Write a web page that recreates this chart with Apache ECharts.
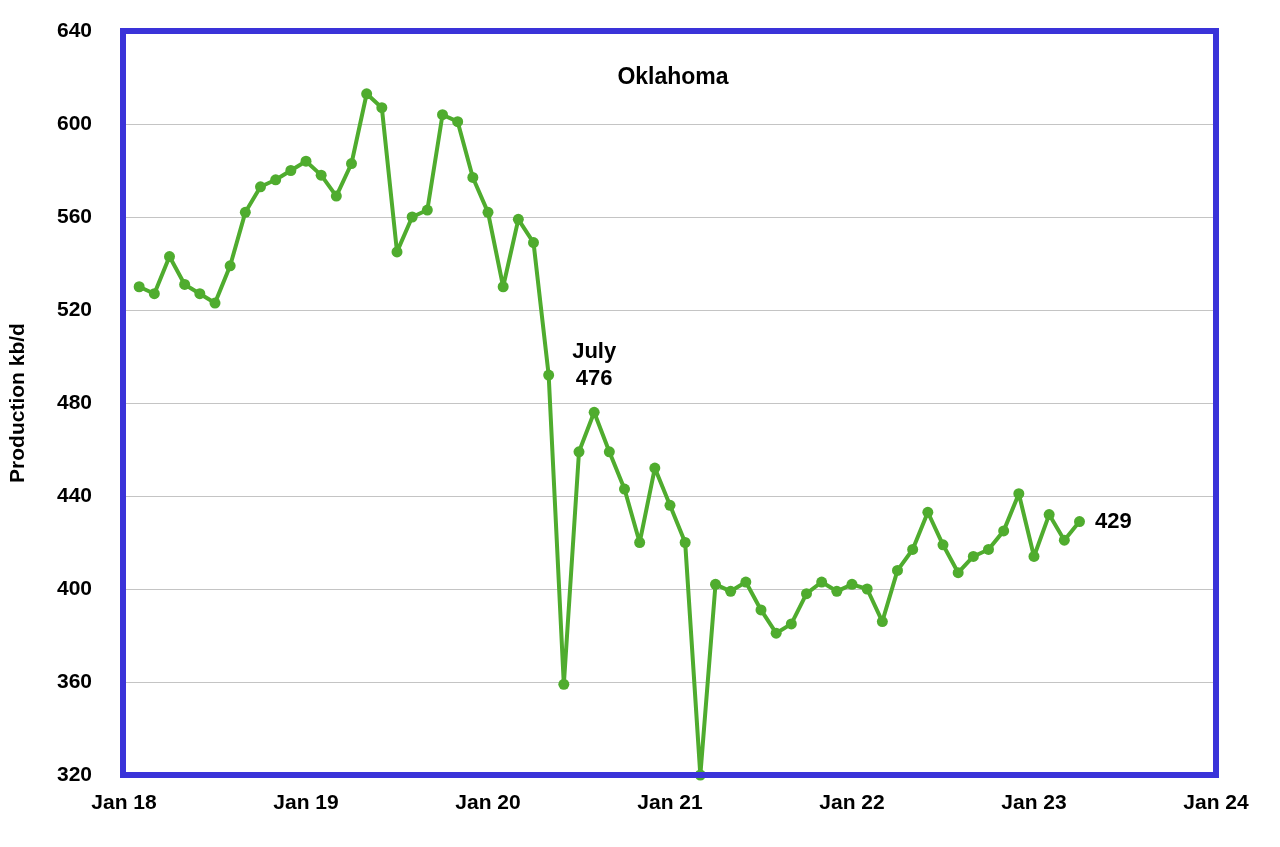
<!DOCTYPE html>
<html>
<head>
<meta charset="utf-8">
<script src="https://cdn.jsdelivr.net/npm/echarts@6/dist/echarts.min.js"></script>
<style>html,body{margin:0;padding:0;background:#fff}#box{width:1280px;height:847px}</style>
</head>
<body>
<div id="box"></div>
<script>
// monthly production Jan 2018 .. Mar 2023, kb/d
var production = [530, 527, 543, 531, 527, 523, 539, 562, 573, 576, 580, 584,
    578, 569, 583, 613, 607, 545, 560, 563, 604, 601, 577, 562,
    530, 559, 549, 492, 359, 459, 476, 459, 443, 420, 452, 436,
    420, 320, 402, 399, 403, 391, 381, 385, 398, 403, 399, 402,
    400, 386, 408, 417, 433, 419, 407, 414, 417, 425, 441, 414,
    432, 421, 429];
var yearLabels = ['Jan 18', 'Jan 19', 'Jan 20', 'Jan 21', 'Jan 22', 'Jan 23', 'Jan 24'];

var myChart = echarts.init(document.getElementById('box'));
var font = 'Liberation Sans';

// points sit at month end: x = month index + 1
var points = production.map(function (v, i) {
    var item = { value: [i + 1, v] };
    if (i === 30) {
        item.label = { show: true, position: 'top', distance: 14, formatter: 'July\n476',
            fontSize: 22, fontWeight: 'bold', color: '#000', lineHeight: 27, fontFamily: font };
    }
    if (i === production.length - 1) {
        item.label = { show: true, position: 'right', distance: 10, formatter: '429',
            fontSize: 22, fontWeight: 'bold', color: '#000', fontFamily: font };
    }
    return item;
});

var option = {
    animation: false,
    title: {
        text: 'Oklahoma',
        left: 668, top: 61, textAlign: 'center',
        textStyle: { fontSize: 23, fontWeight: 'bold', color: '#000', fontFamily: font }
    },
    grid: { left: 123, right: 64, top: 31, bottom: 72 },
    // blue frame around the plot area
    graphic: [{
        type: 'rect', z: 100,
        shape: { x: 123, y: 31, width: 1093, height: 744 },
        style: { fill: null, stroke: '#3a33d9', lineWidth: 6 }
    }],
    xAxis: {
        type: 'value', min: 0, max: 72, interval: 12,
        axisLine: { show: false }, axisTick: { show: false }, splitLine: { show: false },
        axisLabel: {
            margin: 18, fontSize: 21, fontWeight: 'bold', color: '#000', fontFamily: font,
            formatter: function (v) { return yearLabels[v / 12]; }
        }
    },
    yAxis: {
        type: 'value', min: 320, max: 640, interval: 40,
        name: 'Production kb/d', nameLocation: 'middle', nameGap: 95,
        nameTextStyle: { fontSize: 21, fontWeight: 'bold', color: '#000', fontFamily: font },
        axisLine: { show: false }, axisTick: { show: false },
        axisLabel: { margin: 32, fontSize: 21, fontWeight: 'bold', color: '#000', fontFamily: font },
        splitLine: { lineStyle: { color: '#c4c4c4', width: 1 } }
    },
    series: [{
        type: 'line',
        data: points,
        symbol: 'circle',
        symbolSize: 11,
        itemStyle: { color: '#4fac2e' },
        lineStyle: { color: '#4fac2e', width: 4 }
    }]
};

myChart.setOption(option);
</script>
</body>
</html>
